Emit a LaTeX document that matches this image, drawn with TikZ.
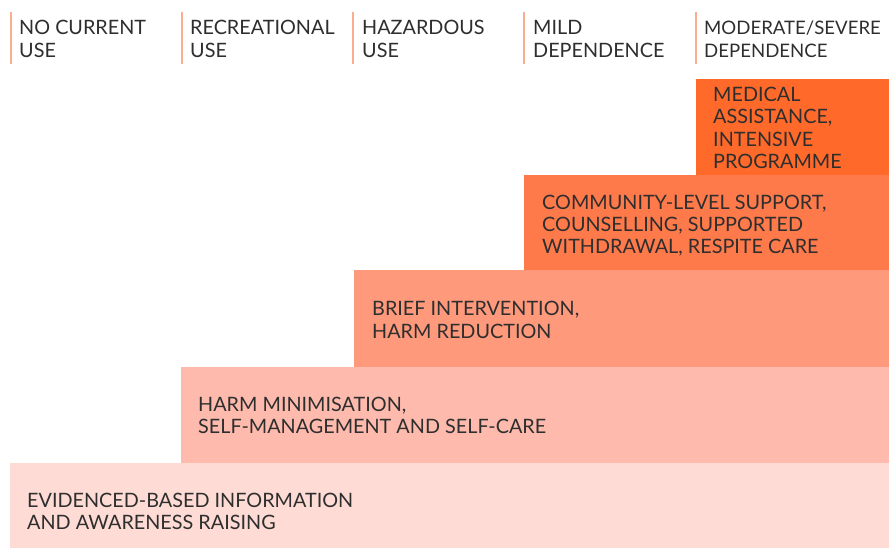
\documentclass[tikz,border=0pt]{standalone}
\usepackage{fontspec}
\setmainfont{Lato}
\definecolor{sepc}{HTML}{F8AE90}
\definecolor{txt}{HTML}{2E2E2E}
\definecolor{cA}{HTML}{FEDCD5}
\definecolor{cB}{HTML}{FEBBAD}
\definecolor{cC}{HTML}{FF997C}
\definecolor{cD}{HTML}{FF7A4B}
\definecolor{cE}{HTML}{FF6A2B}
\tikzset{
  hdr/.style={anchor=base west, inner sep=0pt, align=left, text=txt, font=\fontsize{19.8}{22.3}\selectfont},
  lvl/.style={anchor=base west, inner sep=0pt, align=left, text=txt, font=\fontsize{19.8}{22.3}\selectfont},
  sep/.style={draw=sepc, line width=1.2pt},
}
\begin{document}
\begin{tikzpicture}[x=1pt,y=-1pt]
\useasboundingbox (0,0) rectangle (889,548);
% level boxes
\fill[cA] (10,463) rectangle (889,548);
\fill[cB] (181,367) rectangle (889,463);
\fill[cC] (354,270) rectangle (889,367);
\fill[cD] (524,175) rectangle (889,270);
\fill[cE] (696,79) rectangle (889,175);
% separators
\foreach \x/\n in {11/s1,182/s2,353/s3,524/s4,696/s5}{
  \coordinate (\n t) at (\x,12);
  \coordinate (\n b) at (\x,64);
  \draw[sep] (\n t) -- (\n b);
}
% headers (anchor at baseline of the last line)
\node[hdr] (h1) at (19,57.3) {NO CURRENT\\USE};
\node[hdr] (h2) at (190,57.3) {RECREATIONAL\\USE};
\node[hdr] (h3) at (362,57.3) {HAZARDOUS\\USE};
\node[hdr] (h4) at (533,57.3) {MILD\\DEPENDENCE};
\node[hdr, font=\fontsize{18.6}{22.3}\selectfont] (h5) at (704,57.3) {MODERATE/SEVERE\\DEPENDENCE};
% level texts
\node[lvl] (t1) at (27,529.3) {EVIDENCED-BASED INFORMATION\\AND AWARENESS RAISING};
\node[lvl] (t2) at (198,433.5) {HARM MINIMISATION,\\SELF-MANAGEMENT AND SELF-CARE};
\node[lvl] (t3) at (372,338) {BRIEF INTERVENTION,\\HARM REDUCTION};
\node[lvl] (t4) at (542,254) {COMMUNITY-LEVEL SUPPORT,\\COUNSELLING, SUPPORTED\\WITHDRAWAL, RESPITE CARE};
\node[lvl] (t5) at (713,168.5) {MEDICAL\\ASSISTANCE,\\INTENSIVE\\PROGRAMME};
\end{tikzpicture}
\end{document}
